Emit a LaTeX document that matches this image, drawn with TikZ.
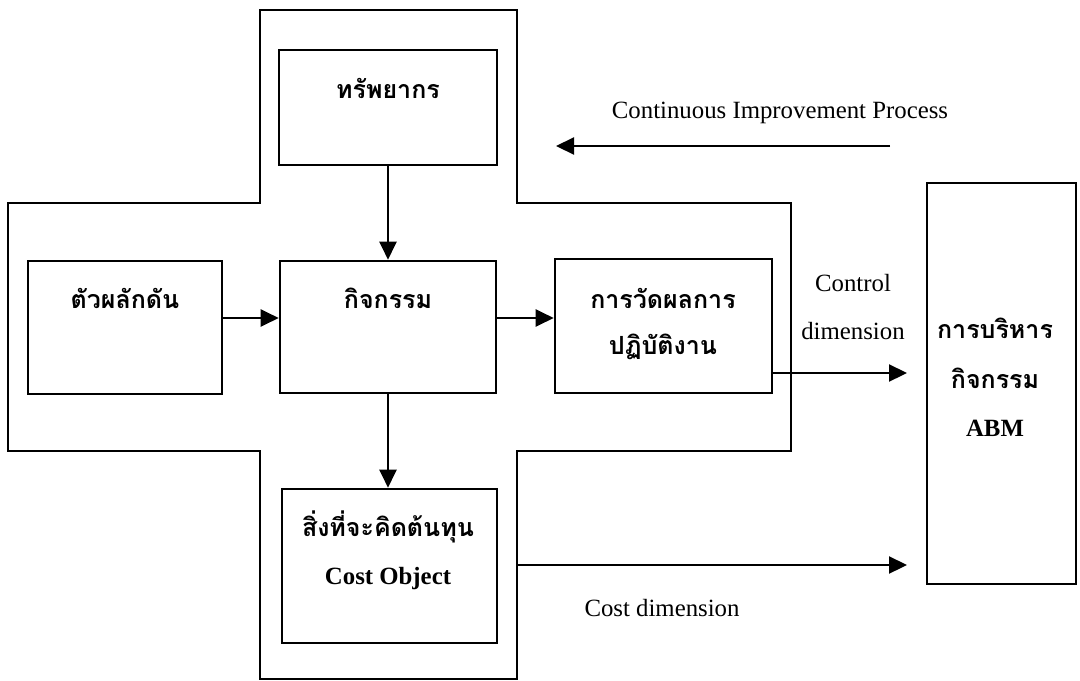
\documentclass[tikz,border=0pt]{standalone}
\usepackage{fontspec}
\setmainfont{Liberation Serif}
\newfontfamily\thai[Script=Thai]{Loma}
\usetikzlibrary{arrows.meta}
\begin{document}
\begin{tikzpicture}[x=0.5pt,y=-0.5pt,
  box/.style={draw,line width=1.3pt,inner sep=0pt},
  arr/.style={line width=1.1pt,-{Triangle[length=9pt,width=8.5pt]}},
  th/.style={font=\thai\bfseries\fontsize{12.5}{14}\selectfont,inner sep=0pt},
  en/.style={font=\fontsize{12.4}{14}\selectfont,inner sep=0pt},
  enb/.style={font=\bfseries\fontsize{12.4}{14}\selectfont,inner sep=0pt}]
\useasboundingbox (0,0) rectangle (1080,680);
% cross outline
\draw[line width=1.3pt] (260,203) -- (260,10) -- (517,10) -- (517,203) -- (791,203) -- (791,451) -- (517,451) -- (517,679) -- (260,679) -- (260,451) -- (8,451) -- (8,203) -- cycle;
% boxes
\node[box,minimum width=109pt,minimum height=57.5pt] (res) at (388,107.5) {};
\node[box,minimum width=97pt,minimum height=66.5pt] (drv) at (125,327.5) {};
\node[box,minimum width=108pt,minimum height=66pt] (act) at (388,327) {};
\node[box,minimum width=108.5pt,minimum height=67pt] (perf) at (663.5,326) {};
\node[box,minimum width=107.5pt,minimum height=77pt] (cost) at (389.5,566) {};
\node[box,minimum width=74.5pt,minimum height=200.5pt] (abm) at (1001.5,383.5) {};
\coordinate (crossR) at (517,565);
\coordinate (ctlEnd) at (907,373);
\coordinate (costEnd) at (907,565);
\coordinate (cipStart) at (890,146);
\coordinate (cipEnd) at (556,146);
% texts
\node[th] (tres) at (388,88) {ทรัพยากร};
\node[th] (tdrv) at (125,298) {ตัวผลักดัน};
\node[th] (tact) at (388,298) {กิจกรรม};
\node[th] (tperf1) at (663,298) {การวัดผลการ};
\node[th] (tperf2) at (663,347) {ปฏิบัติงาน};
\node[th] (tcost) at (388,527) {สิ่งที่จะคิดต้นทุน};
\node[enb] (tcost2) at (388,579) {Cost Object};
\node[th] (tabm1) at (995,328) {การบริหาร};
\node[th] (tabm2) at (995,378) {กิจกรรม};
\node[enb] (tabm3) at (995,428) {ABM};
\node[en] (tctl1) at (853,283) {Control};
\node[en] (tctl2) at (853,331) {dimension};
\node[en] (tcostd) at (662,608) {Cost dimension};
\node[en] (tcip) at (780,113) {Continuous Improvement Process};
% arrows
\draw[arr] (res.south -| act.north) -- (act.north);
\draw[arr] (drv.east |- 0,318) -- (act.west |- 0,318);
\draw[arr] (act.east |- 0,318) -- (perf.west |- 0,318);
\draw[arr] (act.south) -- (cost.north -| act.south);
\draw[arr] (perf.east |- ctlEnd) -- (ctlEnd);
\draw[arr] (crossR) -- (costEnd);
\draw[arr] (cipStart) -- (cipEnd);
\end{tikzpicture}
\end{document}
